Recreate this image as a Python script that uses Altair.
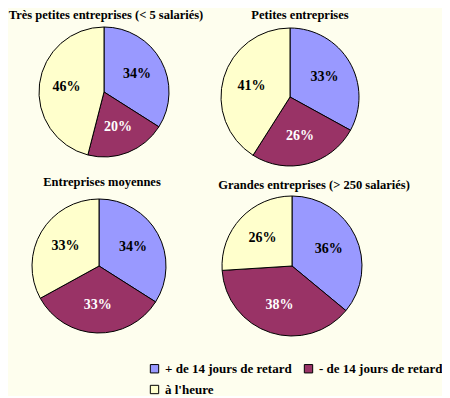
import altair as alt
import pandas as pd

categories = ["+ de 14 jours de retard", "- de 14 jours de retard", "à l'heure"]
colors = ["#9999FF", "#993366", "#FFFFCC"]
groups = [
    "Très petites entreprises (< 5 salariés)",
    "Petites entreprises",
    "Entreprises moyennes",
    "Grandes entreprises (> 250 salariés)",
]
tres_petites = [34, 20, 46]
petites = [33, 26, 41]
moyennes = [34, 33, 33]
grandes = [36, 38, 26]
series = [tres_petites, petites, moyennes, grandes]

rows = []
for g, vals in zip(groups, series):
    for i, (c, v) in enumerate(zip(categories, vals)):
        rows.append({"group": g, "category": c, "value": v, "order": i, "label": f"{v}%"})
df = pd.DataFrame(rows)

# legend is filled column by column: put entries so rows read blue, maroon / yellow
legend_order = [categories[0], categories[2], categories[1]]
legend_colors = [colors[0], colors[2], colors[1]]

# layout (pie centres, radii, title anchors) in chart pixels
layout = [
    dict(cx=96, cy=84, r=65, tx=98, ty=7),
    dict(cx=282, cy=89, r=69, tx=292, ty=7),
    dict(cx=91, cy=258, r=67, tx=94, ty=174),
    dict(cx=284, cy=258, r=70, tx=306, ty=177),
]

FONT = "Liberation Serif, Times New Roman, DejaVu Serif, serif"

legend = alt.Legend(
    title=None, orient="none", legendX=140, legendY=354, columns=2,
    symbolType="square", symbolSize=70, symbolStrokeColor="black", symbolStrokeWidth=1,
    labelFont=FONT, labelFontWeight="bold", labelFontSize=13, labelColor="black",
    labelOffset=4, columnPadding=10, rowPadding=7, labelLimit=300,
)
color = alt.Color("category:N", scale=alt.Scale(domain=legend_order, range=legend_colors),
                  sort=legend_order, legend=legend)

layers = []
for g, lay in zip(groups, layout):
    base = alt.Chart(df).transform_filter(alt.datum.group == g)
    arc = base.mark_arc(radius=lay["r"], stroke="black", strokeWidth=1).encode(
        theta=alt.Theta("value:Q", stack=True),
        color=color,
        order=alt.Order("order:Q"),
        x=alt.value(lay["cx"]), y=alt.value(lay["cy"]),
    )
    txt = base.mark_text(radius=lay["r"] * 0.58, font=FONT, fontWeight="bold", fontSize=14).encode(
        theta=alt.Theta("value:Q", stack=True),
        order=alt.Order("order:Q"),
        text="label:N",
        color=alt.condition(alt.datum.category == categories[1], alt.value("white"), alt.value("black")),
        x=alt.value(lay["cx"]), y=alt.value(lay["cy"]),
    )
    title = alt.Chart(pd.DataFrame({"t": [g]})).mark_text(
        font=FONT, fontWeight="bold", fontSize=12.5, color="black", baseline="middle", align="center"
    ).encode(text="t:N", x=alt.value(lay["tx"]), y=alt.value(lay["ty"]))
    layers += [arc, txt, title]

chart = alt.layer(*layers).properties(
    width=434, height=388, padding=0, autosize=alt.AutoSizeParams(type="none"),
    background="#FEFEEE",
).configure_view(stroke=None)

chart.save("out.html", embed_options={"renderer": "svg", "actions": False})
